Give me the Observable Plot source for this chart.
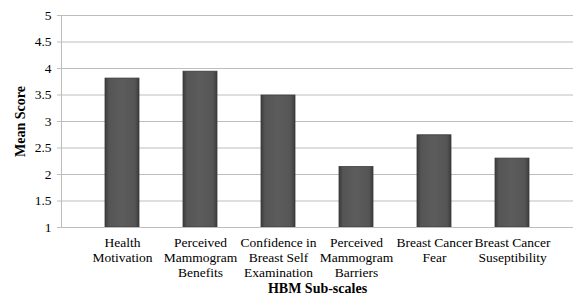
<!DOCTYPE html>
<html>
<head>
<meta charset="utf-8">
<script src="https://cdn.jsdelivr.net/npm/d3@7"></script>
<script src="https://cdn.jsdelivr.net/npm/@observablehq/plot@0.6"></script>
<style>
  html, body { margin: 0; padding: 0; background: #fff; }
  #chart svg { display: block; }
  #chart svg, #chart svg text { font-family: "Liberation Serif", "Times New Roman", serif !important; }
</style>
</head>
<body>
<div id="chart"></div>
<script>
const categories = [
  "Health Motivation",
  "Perceived Mammogram Benefits",
  "Confidence in Breast Self Examination",
  "Perceived Mammogram Barriers",
  "Breast Cancer Fear",
  "Breast Cancer Suseptibility"
];
const tickLabels = [
  "Health\nMotivation",
  "Perceived\nMammogram\nBenefits",
  "Confidence in\nBreast Self\nExamination",
  "Perceived\nMammogram\nBarriers",
  "Breast Cancer\nFear",
  "Breast Cancer\nSuseptibility"
];
const meanScores = [3.81, 3.94, 3.49, 2.14, 2.74, 2.30];
const yTicks = [1, 1.5, 2, 2.5, 3, 3.5, 4, 4.5, 5];
const yBase = 1;

const data = categories.map((c, i) => ({cat: c, value: meanScores[i]}));
const labelOf = new Map(categories.map((c, i) => [c, tickLabels[i]]));

const font = "Liberation Serif";

const chart = Plot.plot({
  width: 579,
  height: 298,
  marginLeft: 61,
  marginRight: 6,
  marginTop: 15,
  marginBottom: 71,
  style: {fontFamily: font, fontSize: "13px", color: "#000", background: "#fff"},
  x: {domain: categories, padding: 0.56},
  y: {domain: [1, 5]},
  marks: [
    Plot.gridY(yTicks, {stroke: "#bdbdbd", strokeOpacity: 1, strokeWidth: 1}),
    Plot.axisY(yTicks, {
      tickFormat: d => String(d),
      tickSize: 4,
      tickPadding: 6,
      stroke: "#bdbdbd",
      fontSize: 13.5,
      label: null
    }),
    Plot.frame({anchor: "left", stroke: "#bdbdbd"}),
    Plot.text(["Mean Score"], {
      frameAnchor: "left", dx: -41, rotate: -90,
      fontWeight: "bold", fontSize: 14, textAnchor: "middle"
    }),
    Plot.barY(data, {
      x: "cat", y1: yBase, y2: "value",
      fill: "url(#barGrad)", stroke: "#3a3a3a", strokeWidth: 0.8
    }),
    Plot.ruleY([yBase], {stroke: "#bdbdbd"}),
    Plot.axisX({
      tickSize: 0,
      tickPadding: 9,
      tickFormat: d => labelOf.get(d),
      lineHeight: 1.12,
      fontSize: 13.5,
      label: null
    }),
    Plot.text(["HBM Sub-scales"], {
      frameAnchor: "bottom", dy: 65,
      fontWeight: "bold", fontSize: 14
    })
  ]
});

const svg = d3.select(chart);
const defs = svg.insert("defs", ":first-child");
const g = defs.append("linearGradient").attr("id", "barGrad")
  .attr("x1", "0").attr("x2", "1").attr("y1", "0").attr("y2", "0");
g.append("stop").attr("offset", "0%").attr("stop-color", "#3c3c3c");
g.append("stop").attr("offset", "12%").attr("stop-color", "#555555");
g.append("stop").attr("offset", "50%").attr("stop-color", "#5c5c5c");
g.append("stop").attr("offset", "88%").attr("stop-color", "#555555");
g.append("stop").attr("offset", "100%").attr("stop-color", "#3c3c3c");

document.getElementById("chart").appendChild(chart);
</script>
</body>
</html>
